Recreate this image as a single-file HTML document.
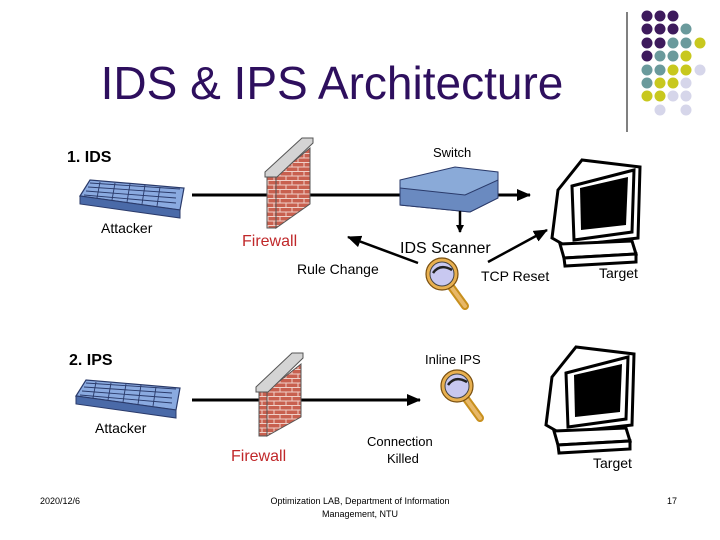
<!DOCTYPE html>
<html><head><style>
body{margin:0;width:720px;height:540px;background:#fff;overflow:hidden}
svg{display:block}
text{font-family:"Liberation Sans",Arial,sans-serif}
</style></head><body>
<svg width="720" height="540" viewBox="0 0 720 540" xmlns="http://www.w3.org/2000/svg">
<defs>
<marker id="ah" markerWidth="8" markerHeight="8" refX="7" refY="4" orient="auto" markerUnits="userSpaceOnUse" viewBox="0 0 8 8"><path d="M0,0 L8,4 L0,8 z" fill="#000"/></marker>
<marker id="ah2" markerWidth="14" markerHeight="12" refX="13" refY="6" orient="auto" markerUnits="userSpaceOnUse"><path d="M0,0 L14,6 L0,12 z" fill="#000"/></marker>
<pattern id="brick" width="12" height="9" patternUnits="userSpaceOnUse">
<rect width="12" height="9" fill="#c8604f"/>
<path d="M0,0.5H12M0,5H12M4,0V5M10,5V9" stroke="#f0d0c8" stroke-width="1"/>
</pattern>
<g id="kb">
<path d="M0,16 L10,0 L104,8 L100,30 Z" fill="#8aaae0" stroke="#2a3a6a" stroke-width="1.2"/>
<path d="M0,16 L100,30 L100,38 L0,24 Z" fill="#4a6aa8" stroke="#2a3a6a"/>
<g stroke="#2a3a6a" stroke-width="0.9" fill="none">
<path d="M8,7 L96,13 M6,11 L96,18 M4,15 L96,23 M10,3 L100,9"/>
<path d="M20,2 L17,18 M35,3 L32,20 M50,4 L47,22 M65,5 L62,24 M80,7 L77,26"/>
</g>
</g>
<g id="pc">
<path d="M10,30 L34,0 L92,7 L90,78 L18,86 L4,78 Z" fill="#fff" stroke="#000" stroke-width="3"/>
<path d="M24,26 L86,10 L84,72 L26,80 Z" fill="#fff" stroke="#000" stroke-width="3"/>
<path d="M32,28 L80,17 L78,65 L33,70 Z" fill="#000"/>
<path d="M12,84 L84,81 L88,94 L16,98 Z" fill="#fff" stroke="#000" stroke-width="3"/>
<path d="M16,98 L88,94 L88,102 L17,106 Z" fill="#fff" stroke="#000" stroke-width="3"/>
</g>
<g id="mag">
<line x1="24" y1="26" x2="40" y2="48" stroke="#c8901e" stroke-width="8" stroke-linecap="round"/>
<line x1="24" y1="26" x2="40" y2="48" stroke="#e8b868" stroke-width="4" stroke-linecap="round"/>
<circle cx="17" cy="16" r="16" fill="#e8b050" stroke="#7a5010" stroke-width="1.2"/>
<circle cx="17" cy="16" r="12" fill="#c8c8f0" stroke="#444" stroke-width="1"/>
<path d="M8,15 Q15,5 27,12" stroke="#222" stroke-width="2.5" fill="none"/>
</g>
</defs>

<text x="332" y="99" font-size="46" fill="#2e0f5e" text-anchor="middle">IDS &amp; IPS Architecture</text>
<line x1="627" y1="12" x2="627" y2="132" stroke="#000" stroke-width="1"/>
<g>
<circle cx="647" cy="16" r="5.5" fill="#3d1a5c"/><circle cx="660" cy="16" r="5.5" fill="#3d1a5c"/><circle cx="673" cy="16" r="5.5" fill="#3d1a5c"/>
<circle cx="647" cy="29" r="5.5" fill="#3d1a5c"/><circle cx="660" cy="29" r="5.5" fill="#3d1a5c"/><circle cx="673" cy="29" r="5.5" fill="#3d1a5c"/><circle cx="686" cy="29" r="5.5" fill="#6a9a9c"/>
<circle cx="647" cy="43" r="5.5" fill="#3d1a5c"/><circle cx="660" cy="43" r="5.5" fill="#3d1a5c"/><circle cx="673" cy="43" r="5.5" fill="#6a9a9c"/><circle cx="686" cy="43" r="5.5" fill="#6a9a9c"/><circle cx="700" cy="43" r="5.5" fill="#c8c81e"/>
<circle cx="647" cy="56" r="5.5" fill="#3d1a5c"/><circle cx="660" cy="56" r="5.5" fill="#6a9a9c"/><circle cx="673" cy="56" r="5.5" fill="#6a9a9c"/><circle cx="686" cy="56" r="5.5" fill="#c8c81e"/>
<circle cx="647" cy="70" r="5.5" fill="#6a9a9c"/><circle cx="660" cy="70" r="5.5" fill="#6a9a9c"/><circle cx="673" cy="70" r="5.5" fill="#c8c81e"/><circle cx="686" cy="70" r="5.5" fill="#c8c81e"/><circle cx="700" cy="70" r="5.5" fill="#d6d6ea"/>
<circle cx="647" cy="83" r="5.5" fill="#6a9a9c"/><circle cx="660" cy="83" r="5.5" fill="#c8c81e"/><circle cx="673" cy="83" r="5.5" fill="#c8c81e"/><circle cx="686" cy="83" r="5.5" fill="#d6d6ea"/>
<circle cx="647" cy="96" r="5.5" fill="#c8c81e"/><circle cx="660" cy="96" r="5.5" fill="#c8c81e"/><circle cx="673" cy="96" r="5.5" fill="#d6d6ea"/><circle cx="686" cy="96" r="5.5" fill="#d6d6ea"/>
<circle cx="660" cy="110" r="5.5" fill="#d6d6ea"/><circle cx="686" cy="110" r="5.5" fill="#d6d6ea"/>
</g>

<!-- IDS section -->
<text x="67" y="162" font-size="16" font-weight="bold">1. IDS</text>
<use href="#kb" x="80" y="180"/>
<text x="101" y="233" font-size="14">Attacker</text>
<line x1="192" y1="195" x2="530" y2="195" stroke="#000" stroke-width="3" marker-end="url(#ah2)"/>
<path d="M276,176 L310,148 L310,204 L276,228 Z" fill="url(#brick)" stroke="#555"/>
<path d="M267,176 L276,176 L276,228 L267,228 Z" fill="url(#brick)" stroke="#555"/>
<path d="M265,172 L302,138 L313,138 L313,143 L277,177 L265,177 Z" fill="#d4d4d4" stroke="#555"/>
<text x="242" y="246" font-size="16" fill="#c0282a">Firewall</text>
<text x="433" y="157" font-size="13">Switch</text>
<path d="M400,180 L455,167 L498,172 L498,198 L470,212 L400,205 Z" fill="#8aaad8" stroke="#2a3a6a"/>
<path d="M400,188 L465,195 L498,180 L498,198 L470,212 L400,205 Z" fill="#6a8ac0" stroke="#2a3a6a"/>
<line x1="460" y1="211" x2="460" y2="232" stroke="#000" stroke-width="2.5" marker-end="url(#ah)"/>
<text x="400" y="253" font-size="16">IDS Scanner</text>
<use href="#mag" x="425" y="258"/>
<line x1="418" y1="263" x2="348" y2="237" stroke="#000" stroke-width="2.5" marker-end="url(#ah2)"/>
<text x="297" y="274" font-size="14">Rule Change</text>
<line x1="488" y1="262" x2="547" y2="230" stroke="#000" stroke-width="2.5" marker-end="url(#ah2)"/>
<text x="481" y="281" font-size="14">TCP Reset</text>
<use href="#pc" x="548" y="160"/>
<text x="599" y="278" font-size="14">Target</text>

<!-- IPS section -->
<text x="69" y="365" font-size="16" font-weight="bold">2. IPS</text>
<use href="#kb" x="76" y="380"/>
<text x="95" y="433" font-size="14">Attacker</text>
<line x1="192" y1="400" x2="420" y2="400" stroke="#000" stroke-width="3" marker-end="url(#ah2)"/>
<path d="M267,391 L301,364 L301,417 L267,436 Z" fill="url(#brick)" stroke="#555"/>
<path d="M259,391 L267,391 L267,436 L259,436 Z" fill="url(#brick)" stroke="#555"/>
<path d="M256,387 L292,353 L303,353 L303,358 L268,392 L256,392 Z" fill="#d4d4d4" stroke="#555"/>
<text x="231" y="461" font-size="16" fill="#c0282a">Firewall</text>
<text x="425" y="364" font-size="13">Inline IPS</text>
<use href="#mag" x="440" y="370"/>
<text x="367" y="446" font-size="13">Connection</text>
<text x="387" y="463" font-size="13">Killed</text>
<use href="#pc" x="542" y="347"/>
<text x="593" y="468" font-size="14">Target</text>

<text x="40" y="504" font-size="9">2020/12/6</text>
<text x="360" y="504" font-size="9" text-anchor="middle">Optimization LAB, Department of Information</text>
<text x="360" y="517" font-size="9" text-anchor="middle">Management, NTU</text>
<text x="667" y="504" font-size="9">17</text>
</svg>
</body></html>
